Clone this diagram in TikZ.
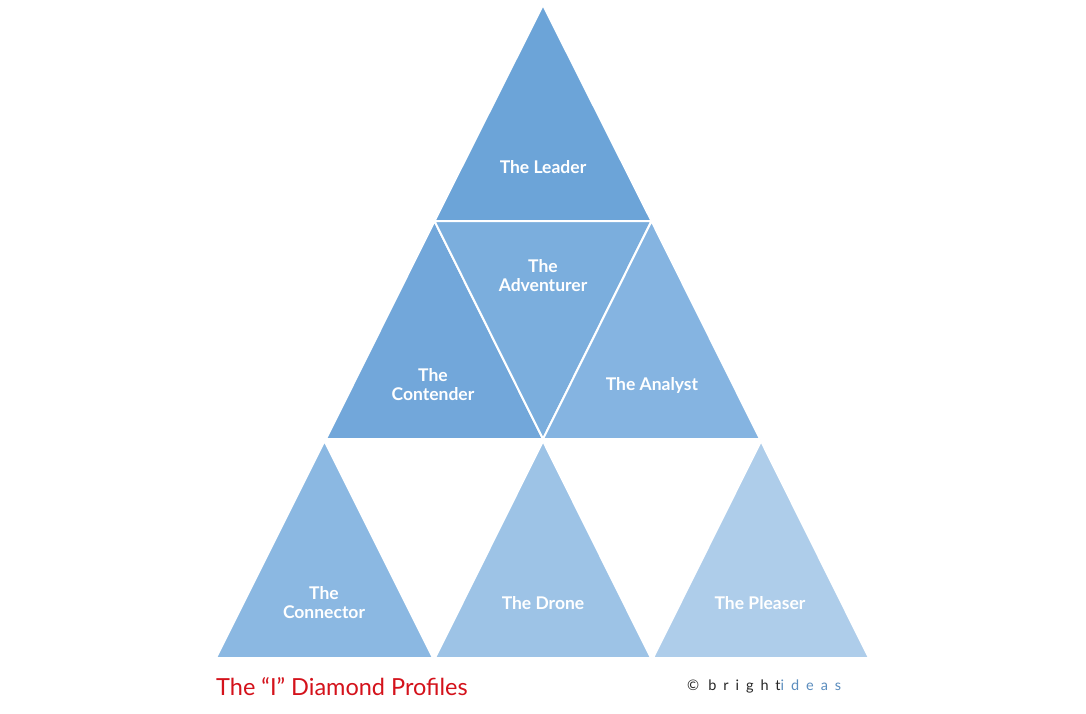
\documentclass[tikz,border=0pt]{standalone}
\usepackage{fontspec}
\setmainfont{Lato}
\usepackage{xcolor}

\definecolor{leadc}{HTML}{6CA4D8}
\definecolor{contc}{HTML}{72A7DA}
\definecolor{advc}{HTML}{7BAEDD}
\definecolor{anac}{HTML}{85B4E1}
\definecolor{connc}{HTML}{8BB8E2}
\definecolor{dronec}{HTML}{9DC3E6}
\definecolor{pleasc}{HTML}{AECDEA}
\definecolor{titlered}{HTML}{D4121B}
\definecolor{ideasblue}{HTML}{5B8DBE}

\tikzset{
  tri/.style={draw=white,line width=2pt,line join=round},
  lbl/.style={text=white,font=\bfseries\fontsize{17.5}{19}\selectfont,align=center}
}

\begin{document}
\begin{tikzpicture}[x=1pt,y=-1pt]
        \useasboundingbox[fill=white] (0,0) rectangle (1086,714);
        % grid of corners
        \coordinate (t0) at (543,5);
        \coordinate (a1) at (434.5,221);
        \coordinate (a2) at (651.5,221);
        \coordinate (b1) at (326,439);
        \coordinate (b2) at (543,439);
        \coordinate (b3) at (760,439);
        \coordinate (c1) at (216,658);
        \coordinate (c2) at (433,658);
        \coordinate (c3) at (435,658);
        \coordinate (c4) at (651,658);
        \coordinate (c5) at (653,658);
        \coordinate (c6) at (869,658);
        \coordinate (p1) at (324.5,441);
        \coordinate (p2) at (543,441);
        \coordinate (p3) at (761,441);
        % triangles
        \filldraw[tri,fill=leadc] (t0) -- (a1) -- (a2) -- cycle;
        \filldraw[tri,fill=contc] (a1) -- (b1) -- (b2) -- cycle;
        \filldraw[tri,fill=advc] (a1) -- (a2) -- (b2) -- cycle;
        \filldraw[tri,fill=anac] (a2) -- (b2) -- (b3) -- cycle;
        \filldraw[tri,fill=connc] (p1) -- (c1) -- (c2) -- cycle;
        \filldraw[tri,fill=dronec] (p2) -- (c3) -- (c4) -- cycle;
        \filldraw[tri,fill=pleasc] (p3) -- (c5) -- (c6) -- cycle;
        % labels
        \node[lbl] (leader) at (543,167) {The Leader};
        \node[lbl] (adventurer) at (543,276) {The\\Adventurer};
        \node[lbl] (contender) at (433,385) {The\\Contender};
        \node[lbl] (analyst) at (652,385) {The Analyst};
        \node[lbl] (connector) at (324,603) {The\\Connector};
        \node[lbl] (drone) at (543,603) {The Drone};
        \node[lbl] (pleaser) at (760,603) {The Pleaser};
        % footer
        \node[anchor=west,text=titlered,font=\fontsize{23.5}{26}\selectfont,inner sep=0pt] (title) at (216,687) {The “I” Diamond Profiles};
        \node[anchor=west,text=black!85,font=\fontsize{14.5}{16}\selectfont,inner sep=0pt] (brand) at (687,686)
          {\textcopyright\hspace{9pt}\addfontfeature{LetterSpace=48}bright\textcolor{ideasblue}{ideas}};
\end{tikzpicture}
\end{document}
